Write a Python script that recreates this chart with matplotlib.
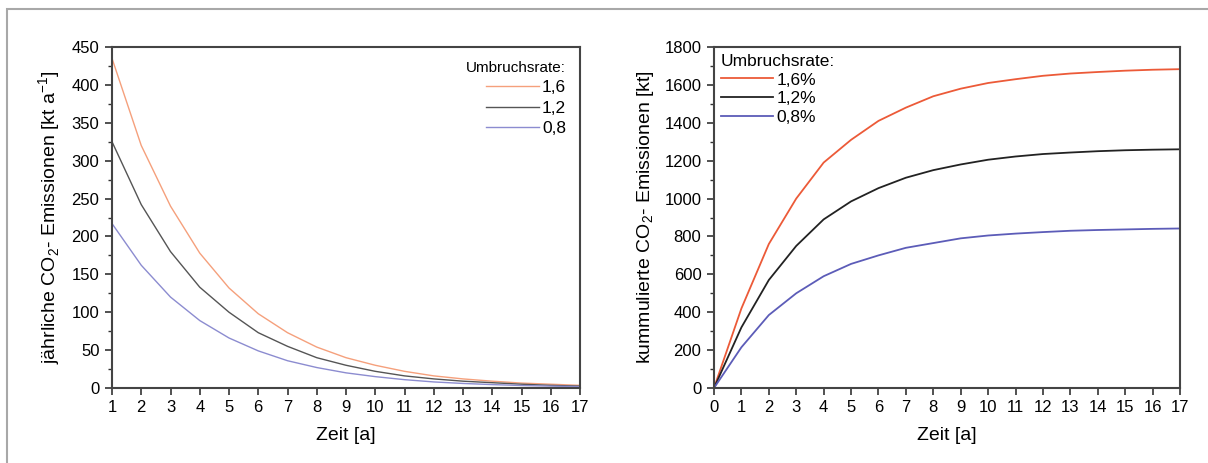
import numpy as np
import matplotlib.pyplot as plt
from matplotlib.patches import Rectangle

plt.rcParams['font.family'] = ['Liberation Sans', 'DejaVu Sans']
plt.rcParams['mathtext.fontset'] = 'custom'
plt.rcParams['mathtext.rm'] = 'Liberation Sans'

# Daten
jahre = list(range(1, 18))
jahre_kum = list(range(0, 18))
raten = ["1,6", "1,2", "0,8"]

em_16 = [435, 320, 240, 178, 132, 98, 73, 54, 40, 30, 22, 16, 12, 9, 6.5, 5, 3.5]
em_12 = [325, 242, 180, 133, 100, 73, 55, 40, 30, 22, 16, 12, 9, 7, 5, 3.5, 2.5]
em_08 = [217, 162, 120, 89, 66, 49, 36, 27, 20, 15, 11, 8, 6, 4.5, 3.3, 2.5, 1.8]

kum_16 = [0, 420, 760, 1000, 1190, 1310, 1410, 1480, 1540, 1580, 1610, 1630, 1648, 1660, 1668, 1675, 1680, 1683]
kum_12 = [0, 320, 570, 750, 890, 985, 1055, 1110, 1150, 1180, 1205, 1222, 1235, 1243, 1250, 1255, 1258, 1260]
kum_08 = [0, 215, 385, 500, 590, 655, 700, 740, 765, 790, 805, 815, 823, 830, 834, 837, 840, 842]

fig = plt.figure(figsize=(12.08, 4.63), dpi=100)

# grauer Rahmen
fig.patches.append(Rectangle((7/1208, -0.05), 1.2, 1 - 9/463 + 0.05, transform=fig.transFigure,
                             fill=False, edgecolor='#a8a8a8', lw=1.5))

ax1 = fig.add_axes([112/1208, 1 - 388/463, 468/1208, 341/463])
ax2 = fig.add_axes([714/1208, 1 - 388/463, 466/1208, 341/463])

farben1 = ['#f5a07c', '#555555', '#8c8cd0']
farben2 = ['#ec5a38', '#222222', '#5c5cb8']

for y, c, r in zip([em_16, em_12, em_08], farben1, raten):
    ax1.plot(jahre, y, color=c, lw=1.0, label=r)
for y, c, r in zip([kum_16, kum_12, kum_08], farben2, raten):
    ax2.plot(jahre_kum, y, color=c, lw=1.3, label=r + "%")

ax1.set_xlim(1, 17)
ax1.set_ylim(0, 450)
ax1.set_xticks(jahre)
ax1.set_yticks(np.arange(0, 451, 50))
ax1.set_yticks(np.arange(0, 451, 25), minor=True)
ax1.set_ylabel("jährliche CO$_\\mathregular{2}$- Emissionen [kt a$^\\mathregular{-1}$]", fontsize=14, labelpad=6)

ax2.set_xlim(0, 17)
ax2.set_ylim(0, 1800)
ax2.set_xticks(jahre_kum)
ax2.set_yticks(np.arange(0, 1801, 200))
ax2.set_yticks(np.arange(0, 1801, 100), minor=True)
ax2.set_ylabel("kummulierte CO$_\\mathregular{2}$- Emissionen [kt]", fontsize=14, labelpad=6)

for ax in [ax1, ax2]:
    ax.set_xlabel("Zeit [a]", fontsize=14, labelpad=8)
    ax.tick_params(axis='both', which='major', direction='out', length=5, width=1.2,
                   labelsize=12, color='#333333', pad=4)
    ax.tick_params(axis='y', which='minor', direction='out', length=3, width=1.0, color='#333333')
    for s in ax.spines.values():
        s.set_linewidth(1.5)
        s.set_color('#444444')

l1 = ax1.legend(title="Umbruchsrate:", loc='upper right', frameon=False, fontsize=12.5,
                title_fontsize=11, handlelength=3.0, handletextpad=0.2, labelspacing=0.3,
                borderaxespad=0.4)
l1._legend_box.align = "right"
l2 = ax2.legend(title="Umbruchsrate:", loc='upper left', frameon=False, fontsize=12.5,
                title_fontsize=12.5, handlelength=3.0, handletextpad=0.2, labelspacing=0.2,
                borderaxespad=0.0)
l2._legend_box.align = "left"

fig.savefig("out.png", dpi=100)
